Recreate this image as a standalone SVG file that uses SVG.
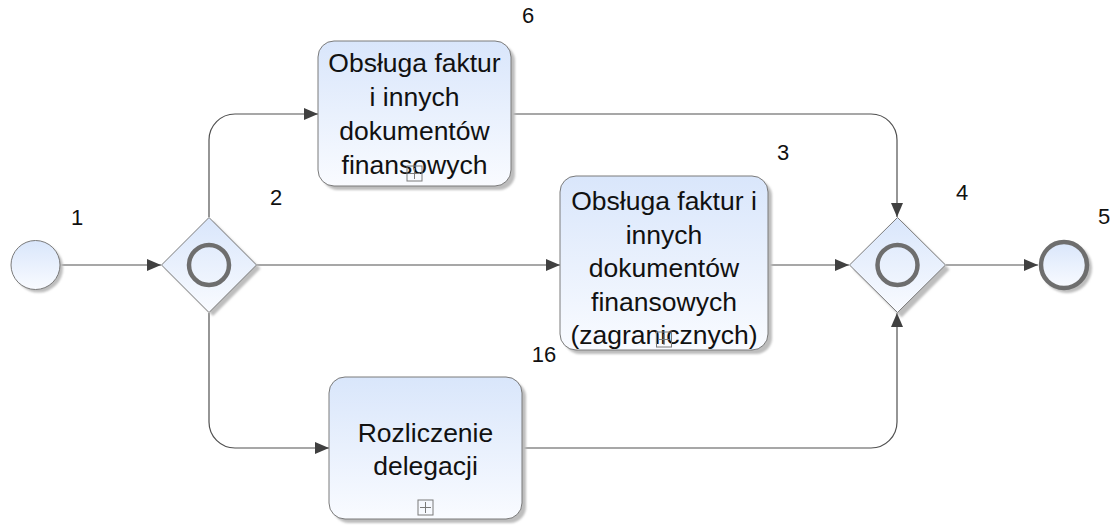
<svg xmlns="http://www.w3.org/2000/svg" width="1113" height="526" viewBox="0 0 1113 526">
  <defs>
    <linearGradient id="fillBlue" x1="0" y1="0" x2="0" y2="1">
      <stop offset="0" stop-color="#d9e6fb"/>
      <stop offset="1" stop-color="#f9fbff"/>
    </linearGradient>
    <filter id="soft" x="-10%" y="-10%" width="130%" height="130%">
      <feGaussianBlur stdDeviation="1.2"/>
    </filter>
    <marker id="arrow" viewBox="0 0 14 12" refX="14" refY="6" markerWidth="14" markerHeight="12" markerUnits="userSpaceOnUse" orient="auto">
      <path d="M0,0 L14,6 L0,12 Z" fill="#404040"/>
    </marker>
  </defs>
  <style>
    .shadow { fill: #bdbdbd; filter: url(#soft); }
    .shape { fill: url(#fillBlue); stroke: #7a7a7a; stroke-width: 1; }
    .ring { fill: none; stroke: #6e6e6e; stroke-width: 4.5; }
    .flow { fill: none; stroke: #505050; stroke-width: 1.2; marker-end: url(#arrow); }
    .label { font-family: "Liberation Sans", Arial, sans-serif; font-size: 26.5px; fill: #111; text-anchor: middle; }
    .num { font-family: "Liberation Sans", Arial, sans-serif; font-size: 22px; fill: #111; text-anchor: middle; }
    .expand { fill: none; stroke: #7a7a7a; stroke-width: 1; }
  </style>
  <rect width="1113" height="526" fill="#ffffff"/>

  <!-- sequence flows -->
  <g id="connectors">
    <path class="flow" d="M60,265 H161"/>
    <path class="flow" d="M209,217 V140 A26,26 0 0 1 235,114 H318"/>
    <path class="flow" d="M257,265 H560"/>
    <path class="flow" d="M209,313 V422 A26,26 0 0 0 235,448 H329"/>
    <path class="flow" d="M511,114 H871 A26,26 0 0 1 897,140 V217"/>
    <path class="flow" d="M768,265 H849"/>
    <path class="flow" d="M522,448 H871 A26,26 0 0 0 897,422 V313"/>
    <path class="flow" d="M946,265 H1038"/>
  </g>

  <!-- start event -->
  <g id="start">
    <circle class="shadow" cx="38.5" cy="268" r="24.5"/>
    <circle class="shape" cx="35.5" cy="265" r="24.5"/>
    <text class="num" x="77" y="225">1</text>
  </g>

  <!-- split gateway -->
  <g id="gateway-split">
    <path class="shadow" d="M213,221 L260.5,268.5 L213,316 L165.5,268.5 Z"/>
    <path class="shape" d="M209,217.5 L256.5,265 L209,312.5 L161.5,265 Z"/>
    <circle class="ring" cx="209" cy="265" r="20"/>
    <text class="num" x="276" y="205">2</text>
  </g>

  <!-- task: invoices -->
  <g id="task-invoices">
    <rect class="shadow" x="322" y="45" width="193" height="145" rx="16"/>
    <rect class="shape" x="318" y="41" width="193" height="145" rx="16"/>
    <text class="label" x="414.5" y="72">Obsługa faktur</text>
    <text class="label" x="414.5" y="106">i innych</text>
    <text class="label" x="414.5" y="140">dokumentów</text>
    <text class="label" x="414.5" y="174">finansowych</text>
    <rect class="expand" x="407" y="166" width="15" height="15"/>
    <path class="expand" d="M414.5,168 V179 M409,173.5 H420"/>
    <text class="num" x="528" y="23">6</text>
  </g>

  <!-- task: foreign invoices -->
  <g id="task-foreign">
    <rect class="shadow" x="564" y="180" width="208" height="174" rx="16"/>
    <rect class="shape" x="560" y="176" width="208" height="174" rx="16"/>
    <text class="label" x="664" y="210">Obsługa faktur i</text>
    <text class="label" x="664" y="243.5">innych</text>
    <text class="label" x="664" y="277">dokumentów</text>
    <text class="label" x="664" y="310.5">finansowych</text>
    <text class="label" x="664" y="344">(zagranicznych)</text>
    <rect class="expand" x="656.5" y="332" width="15" height="15"/>
    <path class="expand" d="M664,334 V345 M658.5,339.5 H669.5"/>
    <text class="num" x="783" y="160">3</text>
    <text class="num" x="544" y="362">16</text>
  </g>

  <!-- task: delegation settlement -->
  <g id="task-delegation">
    <rect class="shadow" x="333" y="381" width="193" height="142" rx="16"/>
    <rect class="shape" x="329" y="377" width="193" height="142" rx="16"/>
    <text class="label" x="425.5" y="442">Rozliczenie</text>
    <text class="label" x="425.5" y="475">delegacji</text>
    <rect class="expand" x="418" y="500" width="15" height="15"/>
    <path class="expand" d="M425.5,502 V513 M420,507.5 H431"/>
  </g>

  <!-- join gateway -->
  <g id="gateway-join">
    <path class="shadow" d="M901.5,221.5 L949.5,269.5 L901.5,317.5 L853.5,269.5 Z"/>
    <path class="shape" d="M897.5,217.5 L945.5,265 L897.5,312.5 L849.5,265 Z"/>
    <circle class="ring" cx="897.5" cy="265" r="20"/>
    <text class="num" x="962" y="200">4</text>
  </g>

  <!-- end event -->
  <g id="end">
    <circle class="shadow" cx="1067" cy="268" r="25"/>
    <circle class="shape" cx="1064" cy="265" r="23" style="stroke:#6e6e6e;stroke-width:4.5"/>
    <text class="num" x="1104" y="224">5</text>
  </g>
</svg>
